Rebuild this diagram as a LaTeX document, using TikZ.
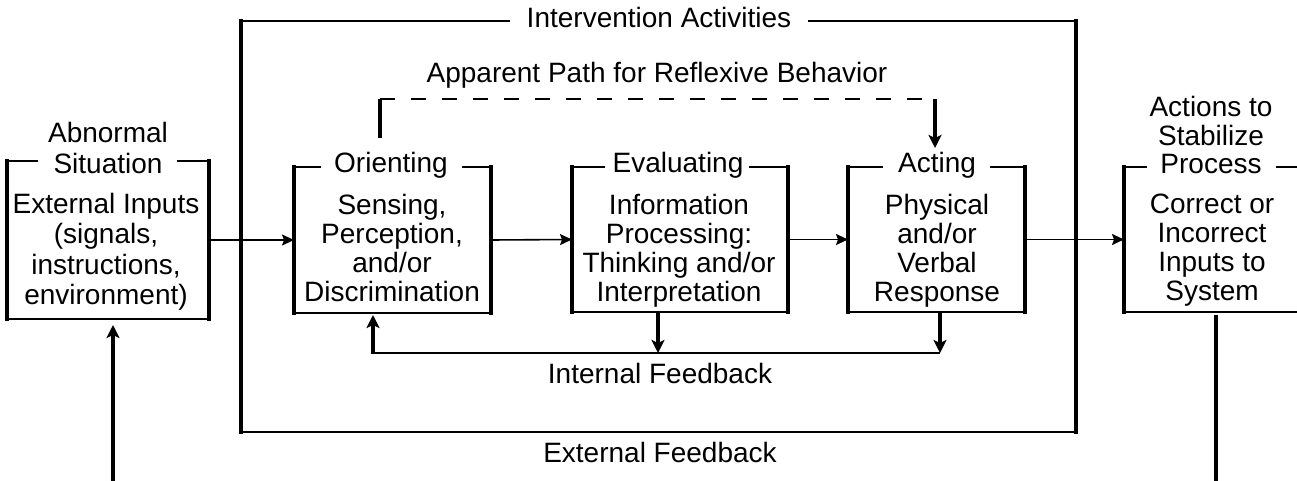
\documentclass[tikz,border=0pt]{standalone}
\usepackage{fontspec}
\setmainfont{Liberation Sans}
\usetikzlibrary{arrows.meta,fit,calc}

\tikzset{
  txt/.style={font=\fontsize{28}{29}\selectfont, align=center, inner sep=0pt},
  txtwide/.style={font=\fontsize{28}{30.5}\selectfont, align=center, inner sep=0pt},
  boxarea/.style={inner sep=0pt, outer sep=0pt},
  thinln/.style={line width=1.8pt},
  thickln/.style={line width=4.2pt, line cap=rect},
  thinarr/.style={line width=1.6pt, -{Stealth[length=12pt, width=11pt, inset=2pt]}},
  thickarr/.style={line width=4.2pt, -{Stealth[length=13pt, width=13pt, inset=3pt]}},
  thickplain/.style={line width=4.2pt},
  dashedln/.style={line width=1.8pt, dash pattern=on 15pt off 16pt},
}

% frame: thin top (broken by the title) and bottom, heavy sides
\newcommand\drawframe[4]{%
  \draw[thinln] (#1.north west) -- ([xshift=-#3]#2.west |- #1.north);
  \draw[thinln] ([xshift=#4]#2.east |- #1.north) -- (#1.north east);
  \draw[thinln] (#1.south west) -- (#1.south east);
  \draw[thickln] (#1.north west) -- (#1.south west);
  \draw[thickln] (#1.north east) -- (#1.south east);
}

\begin{document}
\begin{tikzpicture}[x=1pt, y=-1pt]
\useasboundingbox (0,0) rectangle (1297,481);

% ---- outer frame: intervention activities
\node[boxarea, fit={(241,21) (1076,432)}] (outer) {};
\node[txt, anchor=base] (outerT) at (659,28) {Intervention Activities};
\drawframe{outer}{outerT}{17pt}{17pt}

% ---- abnormal situation / external inputs
\node[boxarea, fit={(7,161) (209,319)}] (lbox) {};
\node[txt, anchor=base] (lboxT) at (108,174) {Situation};
\node[txt, anchor=base] (lboxTu) at (108,143) {Abnormal};
\node[txtwide, anchor=north] (lboxC) at (106,193)
  {External Inputs\\(signals,\\instructions,\\environment)};
\drawframe{lbox}{lboxT}{15pt}{14pt}

% ---- orienting
\node[boxarea, fit={(294,167) (491,313)}] (orient) {};
\node[txt, anchor=base] (orientT) at (391,173) {Orienting};
\node[txt, anchor=north] (orientC) at (392,194)
  {Sensing,\\Perception,\\and/or\\Discrimination};
\drawframe{orient}{orientT}{13pt}{14pt}

% ---- evaluating
\node[boxarea, fit={(572,167) (788,312)}] (eval) {};
\node[txt, anchor=base] (evalT) at (678,172) {Evaluating};
\node[txt, anchor=north] (evalC) at (679,194)
  {Information\\Processing:\\Thinking and/or\\Interpretation};
\drawframe{eval}{evalT}{7pt}{5pt}

% ---- acting
\node[boxarea, fit={(848,167) (1025,312)}] (act) {};
\node[txt, anchor=base] (actT) at (937,173) {Acting};
\node[txt, anchor=north] (actC) at (937,194)
  {Physical\\and/or\\Verbal\\Response};
\drawframe{act}{actT}{15pt}{14pt}

% ---- actions to stabilize process
\node[boxarea, fit={(1124,167) (1303,312)}] (rbox) {};
\node[txt, anchor=base] (rboxT) at (1211,174) {Process};
\node[font=\fontsize{28}{29}\selectfont, align=center, inner sep=0pt, anchor=south]
  (rboxTu) at (1211,146) {Actions to\\Stabilize};
\node[txt, anchor=north] (rboxC) at (1212,193.5)
  {Correct or\\Incorrect\\Inputs to\\System};
\drawframe{rbox}{rboxT}{13pt}{14pt}

% ---- forward flow
\draw[thinarr] (lbox.east) -- (orient.west);
\draw[thinarr] (orient.east) -- (eval.west);
\draw[thinarr] (eval.east) -- (act.west);
\draw[thinarr] (act.east) -- (rbox.west |- act.east);

% ---- apparent path for reflexive behavior
\coordinate (rp0) at (380,138);
\coordinate (rp1) at (380,99);
\coordinate (rp2) at (935,99);
\coordinate (rp3) at (935,148);
\draw[thickplain] (rp0) -- (rp1);
\draw[dashedln] (rp1) -- (rp2);
\draw[thickarr] (rp2) -- (rp3);
\node[txt, anchor=base] (reflexT) at (657,83) {Apparent Path for Reflexive Behavior};

% ---- internal feedback
\coordinate (fbL) at (373,353);
\coordinate (fbE) at (658,353);
\coordinate (fbR) at (940,353);
\draw[thickarr] (eval.south -| fbE) -- (fbE);
\draw[thickarr] (act.south -| fbR) -- (fbR);
\draw[thinln] (fbL) -- (fbR);
\draw[thickarr] ([yshift=-0.9pt]fbL) -- ([yshift=-2pt]orient.south -| fbL);
\node[txt, anchor=base] (intT) at (660,383) {Internal Feedback};

% ---- external feedback
\node[txt, anchor=base] (extT) at (660,462) {External Feedback};
\coordinate (inB) at (113,481);
\coordinate (outB) at (1216,481);
\draw[thickarr] (inB) -- ([yshift=-6pt]lbox.south -| inB);
\draw[thickplain] ([yshift=-3pt]rbox.south -| outB) -- (outB);
\end{tikzpicture}
\end{document}
